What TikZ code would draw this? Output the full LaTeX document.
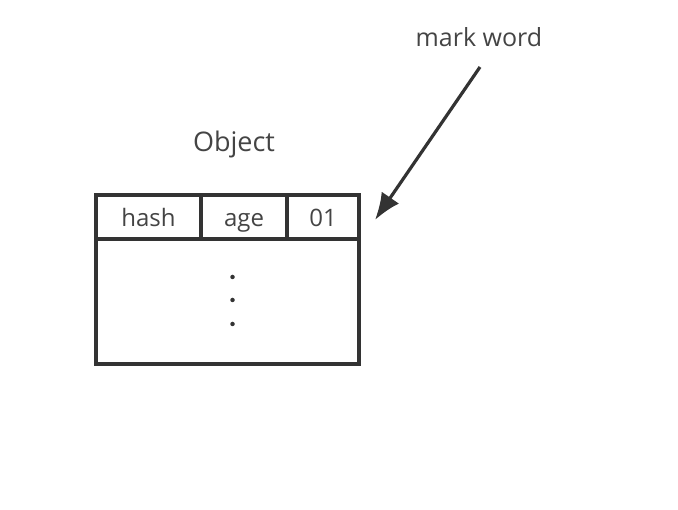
\documentclass[tikz,border=0pt]{standalone}
\usepackage{fontspec}
\setmainfont{Open Sans}
\usetikzlibrary{arrows.meta}
\definecolor{ink}{HTML}{333333}
\definecolor{txt}{HTML}{444444}
\tikzset{
  cell/.style={draw=ink, line width=3.2pt, rectangle, inner sep=0pt, text=txt, font=\fontsize{24}{28}\selectfont, text height=19.4pt, text depth=0pt},
  lbl/.style={text=txt, inner sep=0pt, anchor=base},
  arr/.style={draw=ink, line width=3.2pt, -{Latex[length=27pt,width=21pt]}},
  dotm/.style={circle, fill=ink, inner sep=0pt, minimum size=4.5pt}
}
\begin{document}
\begin{tikzpicture}[x=1pt,y=-1pt]
\useasboundingbox (0,0) rectangle (678,510);
\node[cell, minimum width=263pt, minimum height=125pt] (body) at (227.5,301.5) {};
\node[cell, minimum width=105pt, minimum height=44pt] (hash) at (148.5,217) {hash};
\node[cell, minimum width=86pt, minimum height=44pt] (age) at (244,217) {age};
\node[cell, minimum width=72pt, minimum height=44pt] (o1) at (323,217) {01};
\node[dotm] (d1) at (232.5,277) {};
\node[dotm] (d2) at (232.5,300) {};
\node[dotm] (d3) at (232.5,324) {};
\node[lbl, font=\fontsize{27}{30}\selectfont] (obj) at (234,152) {Object};
\node[lbl, font=\fontsize{25}{28}\selectfont] (mw) at (479,47) {mark word};
\coordinate (as) at (480,67);
\coordinate (ae) at (375,220);
\draw[arr] (as) -- (ae);
\end{tikzpicture}
\end{document}
